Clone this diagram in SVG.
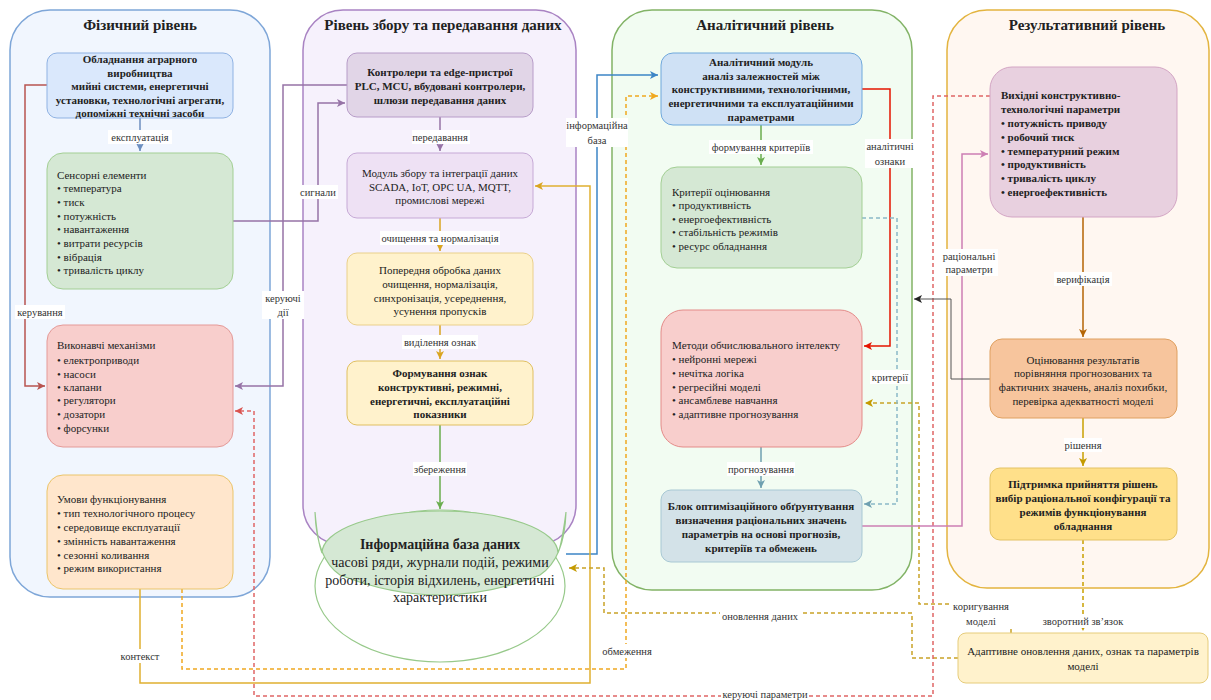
<svg xmlns="http://www.w3.org/2000/svg" width="1211" height="700" viewBox="0 0 1211 700" font-family="'Liberation Serif', 'DejaVu Serif', serif">
<style>
text{font-family:'Liberation Serif','DejaVu Serif',serif}
.t{font-size:11px;fill:#222}
.b{font-weight:bold}
.m{text-anchor:middle}
.ttl{font-size:15px;font-weight:bold;fill:#222;text-anchor:middle}
.lb{font-size:10.5px;fill:#333;text-anchor:middle}
.bg{fill:#fff}
.c{fill:none;stroke-width:1.5}
.d{stroke-dasharray:4 3}
</style>
<defs>
<marker id="aBlue" markerUnits="userSpaceOnUse" markerWidth="10" markerHeight="10" refX="8" refY="4" orient="auto"><path d="M0,0 L8,4 L0,8 L2,4 Z" fill="#6c8ebf"/></marker>
<marker id="aRed" markerUnits="userSpaceOnUse" markerWidth="10" markerHeight="10" refX="8" refY="4" orient="auto"><path d="M0,0 L8,4 L0,8 L2,4 Z" fill="#b85450"/></marker>
<marker id="aPur" markerUnits="userSpaceOnUse" markerWidth="10" markerHeight="10" refX="8" refY="4" orient="auto"><path d="M0,0 L8,4 L0,8 L2,4 Z" fill="#9673a6"/></marker>
<marker id="aGold" markerUnits="userSpaceOnUse" markerWidth="10" markerHeight="10" refX="8" refY="4" orient="auto"><path d="M0,0 L8,4 L0,8 L2,4 Z" fill="#d9a521"/></marker>
<marker id="aGreen" markerUnits="userSpaceOnUse" markerWidth="10" markerHeight="10" refX="8" refY="4" orient="auto"><path d="M0,0 L8,4 L0,8 L2,4 Z" fill="#6aad4e"/></marker>
<marker id="aBlue2" markerUnits="userSpaceOnUse" markerWidth="10" markerHeight="10" refX="8" refY="4" orient="auto"><path d="M0,0 L8,4 L0,8 L2,4 Z" fill="#3d85c6"/></marker>
<marker id="aGoldD" markerUnits="userSpaceOnUse" markerWidth="10" markerHeight="10" refX="8" refY="4" orient="auto"><path d="M0,0 L8,4 L0,8 L2,4 Z" fill="#c49a00"/></marker>
<marker id="aOr" markerUnits="userSpaceOnUse" markerWidth="10" markerHeight="10" refX="8" refY="4" orient="auto"><path d="M0,0 L8,4 L0,8 L2,4 Z" fill="#f0a820"/></marker>
<marker id="aRedD" markerUnits="userSpaceOnUse" markerWidth="10" markerHeight="10" refX="8" refY="4" orient="auto"><path d="M0,0 L8,4 L0,8 L2,4 Z" fill="#d9534f"/></marker>
<marker id="aRed2" markerUnits="userSpaceOnUse" markerWidth="10" markerHeight="10" refX="8" refY="4" orient="auto"><path d="M0,0 L8,4 L0,8 L2,4 Z" fill="#e51400"/></marker>
<marker id="aTeal" markerUnits="userSpaceOnUse" markerWidth="10" markerHeight="10" refX="8" refY="4" orient="auto"><path d="M0,0 L8,4 L0,8 L2,4 Z" fill="#6fa0b0"/></marker>
<marker id="aPink" markerUnits="userSpaceOnUse" markerWidth="10" markerHeight="10" refX="8" refY="4" orient="auto"><path d="M0,0 L8,4 L0,8 L2,4 Z" fill="#cd7fb4"/></marker>
<marker id="aGray" markerUnits="userSpaceOnUse" markerWidth="10" markerHeight="10" refX="8" refY="4" orient="auto"><path d="M0,0 L8,4 L0,8 L2,4 Z" fill="#222"/></marker>
<marker id="aBrown" markerUnits="userSpaceOnUse" markerWidth="10" markerHeight="10" refX="8" refY="4" orient="auto"><path d="M0,0 L8,4 L0,8 L2,4 Z" fill="#b46504"/></marker>
</defs>

<g id="containers">
<g id="phys-level"><rect x="10" y="10" width="260" height="587" rx="40" fill="#f1f6fe" stroke="#7ea6d8" stroke-width="1.5"/><text class="ttl" x="140" y="30">Фізичний рівень</text></g>
<g id="collect-level"><rect x="303" y="10" width="273" height="535" rx="40" fill="#f6f1fc" stroke="#a983c3" stroke-width="1.5"/><text class="ttl" x="443" y="30">Рівень збору та передавання даних</text></g>
<g id="anal-level"><rect x="612" y="10" width="300" height="580" rx="40" fill="#f2fcf2" stroke="#82b366" stroke-width="1.5"/><text class="ttl" x="765" y="30">Аналітичний рівень</text></g>
<g id="result-level"><rect x="947" y="10" width="262" height="578" rx="40" fill="#fff7f1" stroke="#e3b43f" stroke-width="1.5"/><text class="ttl" x="1087" y="30">Результативний рівень</text></g>
</g>

<g id="connectors">
<path class="c" stroke="#6c8ebf" d="M140,118 V151" marker-end="url(#aBlue)"/>
<path class="c" stroke="#b85450" d="M47,85 H25 V386 H45" marker-end="url(#aRed)"/>
<path class="c" stroke="#9673a6" d="M233,221 H318 V103 H345" marker-end="url(#aPur)"/>
<path class="c" stroke="#9673a6" d="M347,85 H283 V386 H235" marker-end="url(#aPur)"/>
<path class="c" stroke="#9673a6" d="M440,117 V151" marker-end="url(#aPur)"/>
<path class="c" stroke="#d9a521" d="M440,218 V251" marker-end="url(#aGold)"/>
<path class="c" stroke="#d9a521" d="M440,325 V359" marker-end="url(#aGold)"/>
<path class="c" stroke="#6aad4e" d="M440,425 V509" marker-end="url(#aGreen)"/>
<path class="c" stroke="#3d85c6" d="M566,554 H597 V75 H658" marker-end="url(#aBlue2)"/>
<path class="c" stroke="#e0b030" d="M140,589 V683 H590 V186 H535" marker-end="url(#aGold)"/>
<path class="c d" stroke="#f0a820" d="M182,589 V669 H626 V96 H658" marker-end="url(#aOr)"/>
<path class="c d" stroke="#c9a227" d="M958,658 H912 V613 H604 V568 H569" marker-end="url(#aGoldD)"/>
<path class="c d" stroke="#c9a227" d="M1011,633 V604 H919 V403 H865" marker-end="url(#aGoldD)"/>
<path class="c d" stroke="#e06666" d="M990,96 H933 V696 H254 V411 H235" marker-end="url(#aRedD)"/>
<path class="c" stroke="#e51400" d="M862,89 H890 V346 H864" marker-end="url(#aRed2)"/>
<path class="c" stroke="#6aad4e" d="M761,125 V165" marker-end="url(#aGreen)"/>
<path class="c" stroke="#6fa0b0" d="M761,447 V488" marker-end="url(#aTeal)"/>
<path class="c d" stroke="#8ab8c8" d="M862,218 H897 V504 H864" marker-end="url(#aTeal)"/>
<path class="c" stroke="#cd7fb4" d="M862,526 H962 V154 H988" marker-end="url(#aPink)"/>
<path fill="none" stroke="#555" stroke-width="1" d="M990,379 H951 V299 H914" marker-end="url(#aGray)"/>
<path class="c" stroke="#b46504" d="M1083,217 V337" marker-end="url(#aBrown)"/>
<path class="c" stroke="#c8a000" d="M1083,418 V466" marker-end="url(#aGoldD)"/>
<path class="c d" stroke="#c9a000" d="M1083,540 V631" marker-end="url(#aGoldD)"/>
</g>

<g id="n-equipment"><rect x="47" y="53" width="186" height="65" rx="10" fill="#dae8fc" stroke="#8fb2e3"/>
<text class="t b m"><tspan x="140" y="63">Обладнання аграрного</tspan><tspan x="140" y="77">виробництва</tspan><tspan x="140" y="90">мийні системи, енергетичні</tspan><tspan x="140" y="104">установки, технологічні агрегати,</tspan><tspan x="140" y="117">допоміжні технічні засоби</tspan></text></g>

<g id="n-sensors"><rect x="47" y="153" width="186" height="136" rx="16" fill="#d5e8d4" stroke="#a3cf94"/>
<text class="t"><tspan x="57" y="179">Сенсорні елементи</tspan><tspan x="57" y="192">• температура</tspan><tspan x="57" y="206">• тиск</tspan><tspan x="57" y="220">• потужність</tspan><tspan x="57" y="233">• навантаження</tspan><tspan x="57" y="247">• витрати ресурсів</tspan><tspan x="57" y="261">• вібрація</tspan><tspan x="57" y="274">• тривалість циклу</tspan></text></g>

<g id="n-actuators"><rect x="47" y="325" width="186" height="122" rx="16" fill="#f8cecc" stroke="#e49a98"/>
<text class="t"><tspan x="57" y="349">Виконавчі механізми</tspan><tspan x="57" y="364">• електроприводи</tspan><tspan x="57" y="378">• насоси</tspan><tspan x="57" y="391">• клапани</tspan><tspan x="57" y="404">• регулятори</tspan><tspan x="57" y="418">• дозатори</tspan><tspan x="57" y="432">• форсунки</tspan></text></g>

<g id="n-conditions"><rect x="47" y="475" width="186" height="114" rx="16" fill="#ffe6cc" stroke="#ebc56a"/>
<text class="t"><tspan x="57" y="503">Умови функціонування</tspan><tspan x="57" y="517">• тип технологічного процесу</tspan><tspan x="57" y="531">• середовище експлуатації</tspan><tspan x="57" y="545">• змінність навантаження</tspan><tspan x="57" y="559">• сезонні коливання</tspan><tspan x="57" y="572">• режим використання</tspan></text></g>

<g id="n-controllers"><rect x="347" y="53" width="186" height="64" rx="10" fill="#e1d5e7" stroke="#b79cc8"/>
<text class="t b m"><tspan x="440" y="76">Контролери та edge-пристрої</tspan><tspan x="440" y="90">PLC, MCU, вбудовані контролери,</tspan><tspan x="440" y="104">шлюзи передавання даних</tspan></text></g>

<g id="n-collect"><rect x="347" y="153" width="186" height="65" rx="10" fill="#eee1f4" stroke="#c6a9d6"/>
<text class="t m"><tspan x="440" y="177">Модуль збору та інтеграції даних</tspan><tspan x="440" y="191">SCADA, IoT, OPC UA, MQTT,</tspan><tspan x="440" y="204">промислові мережі</tspan></text></g>

<g id="n-preproc"><rect x="347" y="253" width="186" height="72" rx="10" fill="#fff2cc" stroke="#ead08a"/>
<text class="t m"><tspan x="440" y="274">Попередня обробка даних</tspan><tspan x="440" y="288">очищення, нормалізація,</tspan><tspan x="440" y="302">синхронізація, усереднення,</tspan><tspan x="440" y="315">усунення пропусків</tspan></text></g>

<g id="n-features"><rect x="347" y="361" width="186" height="64" rx="10" fill="#fff2cc" stroke="#e0c060"/>
<text class="t b m"><tspan x="440" y="377">Формування ознак</tspan><tspan x="440" y="391">конструктивні, режимні,</tspan><tspan x="440" y="405">енергетичні, експлуатаційні</tspan><tspan x="440" y="418">показники</tspan></text></g>

<g id="n-database">
<ellipse cx="440" cy="586" rx="125" ry="76" fill="#fff" stroke="#97c98a" stroke-width="1.2"/>
<path d="M315,512 C316,545 325,565 340,575 Q440,615 540,575 C555,565 565,545 566,512 C563,535 560,548 558,553 A118,42 0 0 0 322,553 C320,548 317,535 315,512 Z" fill="#d5e8d4" stroke="#97c98a" stroke-width="1.2"/>
<text class="t m" style="font-size:14px"><tspan x="440" y="549" font-weight="bold">Інформаційна база даних</tspan><tspan x="440" y="567">часові ряди, журнали подій, режими</tspan><tspan x="440" y="585">роботи, історія відхилень, енергетичні</tspan><tspan x="440" y="602">характеристики</tspan></text>
</g>

<g id="n-analytic"><rect x="661" y="53" width="201" height="72" rx="12" fill="#cfe1f5" stroke="#6fa8dc"/>
<text class="t b m"><tspan x="761" y="66">Аналітичний модуль</tspan><tspan x="761" y="80">аналіз залежностей між</tspan><tspan x="761" y="93">конструктивними, технологічними,</tspan><tspan x="761" y="107">енергетичними та експлуатаційними</tspan><tspan x="761" y="121">параметрами</tspan></text></g>

<g id="n-criteria"><rect x="661" y="167" width="201" height="101" rx="16" fill="#d5e8d4" stroke="#a3cf94"/>
<text class="t"><tspan x="672" y="196">Критерії оцінювання</tspan><tspan x="672" y="209">• продуктивність</tspan><tspan x="672" y="223">• енергоефективність</tspan><tspan x="672" y="236">• стабільність режимів</tspan><tspan x="672" y="250">• ресурс обладнання</tspan></text></g>

<g id="n-methods"><rect x="661" y="310" width="201" height="137" rx="22" fill="#f8cecc" stroke="#e48a88"/>
<text class="t"><tspan x="672" y="349">Методи обчислювального інтелекту</tspan><tspan x="672" y="363">• нейронні мережі</tspan><tspan x="672" y="377">• нечітка логіка</tspan><tspan x="672" y="391">• регресійні моделі</tspan><tspan x="672" y="404">• ансамблеве навчання</tspan><tspan x="672" y="418">• адаптивне прогнозування</tspan></text></g>

<g id="n-optim"><rect x="661" y="490" width="201" height="72" rx="10" fill="#d3e2e8" stroke="#a8c8d4"/>
<text class="t b m"><tspan x="761" y="510">Блок оптимізаційного обґрунтування</tspan><tspan x="761" y="524">визначення раціональних значень</tspan><tspan x="761" y="538">параметрів на основі прогнозів,</tspan><tspan x="761" y="552">критеріїв та обмежень</tspan></text></g>

<g id="n-output"><rect x="990" y="67" width="187" height="150" rx="22" fill="#e8d0df" stroke="#d3a5c4"/>
<text class="t b"><tspan x="1001" y="99">Вихідні конструктивно-</tspan><tspan x="1001" y="113">технологічні параметри</tspan><tspan x="1001" y="127">• потужність приводу</tspan><tspan x="1001" y="141">• робочий тиск</tspan><tspan x="1001" y="155">• температурний режим</tspan><tspan x="1001" y="168">• продуктивність</tspan><tspan x="1001" y="182">• тривалість циклу</tspan><tspan x="1001" y="196">• енергоефективність</tspan></text></g>

<g id="n-evaluation"><rect x="990" y="339" width="187" height="79" rx="12" fill="#f7c59d" stroke="#dfa060"/>
<text class="t m"><tspan x="1083" y="364">Оцінювання результатів</tspan><tspan x="1083" y="377">порівняння прогнозованих та</tspan><tspan x="1083" y="391">фактичних значень, аналіз похибки,</tspan><tspan x="1083" y="405">перевірка адекватності моделі</tspan></text></g>

<g id="n-decision"><rect x="990" y="468" width="187" height="72" rx="10" fill="#ffe08a" stroke="#e3c264"/>
<text class="t b m"><tspan x="1083" y="488">Підтримка прийняття рішень</tspan><tspan x="1083" y="502">вибір раціональної конфігурації та</tspan><tspan x="1083" y="516">режимів функціонування</tspan><tspan x="1083" y="530">обладнання</tspan></text></g>

<g id="n-adaptive"><rect x="958" y="633" width="250" height="50" rx="8" fill="#fff2cc" stroke="#e6cc7a"/>
<text class="t m"><tspan x="1083" y="655">Адаптивне оновлення даних, ознак та параметрів</tspan><tspan x="1083" y="670">моделі</tspan></text></g>

<g id="labels">
<rect class="bg" x="108" y="130" width="64" height="14"/><text class="lb" x="140" y="141">експлуатація</text>
<rect class="bg" x="15" y="305" width="50" height="14"/><text class="lb" x="40" y="316">керування</text>
<rect class="bg" x="298" y="185" width="40" height="14"/><text class="lb" x="318" y="196">сигнали</text>
<rect class="bg" x="262" y="291" width="42" height="28"/><text class="lb"><tspan x="283" y="302">керуючі</tspan><tspan x="283" y="316">дії</tspan></text>
<rect class="bg" x="412" y="130" width="58" height="14"/><text class="lb" x="440" y="141">передавання</text>
<rect class="bg" x="380" y="231" width="120" height="14"/><text class="lb" x="440" y="242">очищення та нормалізація</text>
<rect class="bg" x="402" y="335" width="76" height="14"/><text class="lb" x="440" y="346">виділення ознак</text>
<rect class="bg" x="413" y="462" width="54" height="14"/><text class="lb" x="440" y="473">збереження</text>
<rect class="bg" x="566" y="118" width="62" height="29"/><text class="lb"><tspan x="597" y="129">інформаційна</tspan><tspan x="597" y="144">база</tspan></text>
<rect class="bg" x="709" y="140" width="104" height="14"/><text class="lb" x="761" y="151">формування критеріїв</text>
<rect class="bg" x="865" y="139" width="50" height="29"/><text class="lb"><tspan x="890" y="150">аналітичні</tspan><tspan x="890" y="165">ознаки</tspan></text>
<rect class="bg" x="870" y="370" width="40" height="14"/><text class="lb" x="890" y="381">критерії</text>
<rect class="bg" x="727" y="462" width="68" height="14"/><text class="lb" x="761" y="473">прогнозування</text>
<rect class="bg" x="940" y="249" width="58" height="27"/><text class="lb"><tspan x="969" y="260">раціональні</tspan><tspan x="969" y="273">параметри</tspan></text>
<rect class="bg" x="1054" y="272" width="58" height="14"/><text class="lb" x="1083" y="283">верифікація</text>
<rect class="bg" x="1064" y="438" width="38" height="14"/><text class="lb" x="1083" y="449">рішення</text>
<rect class="bg" x="1040" y="614" width="86" height="14"/><text class="lb" x="1083" y="625">зворотний зв’язок</text>
<rect class="bg" x="950" y="599" width="62" height="28"/><text class="lb"><tspan x="981" y="610">коригування</tspan><tspan x="981" y="625">моделі</tspan></text>
<rect class="bg" x="720" y="609" width="80" height="14"/><text class="lb" x="760" y="620">оновлення даних</text>
<rect class="bg" x="600" y="644" width="54" height="14"/><text class="lb" x="627" y="655">обмеження</text>
<rect class="bg" x="119" y="649" width="42" height="14"/><text class="lb" x="140" y="660">контекст</text>
<rect class="bg" x="721" y="689" width="88" height="11"/><text class="lb" x="765" y="698">керуючі параметри</text>
</g>
</svg>
